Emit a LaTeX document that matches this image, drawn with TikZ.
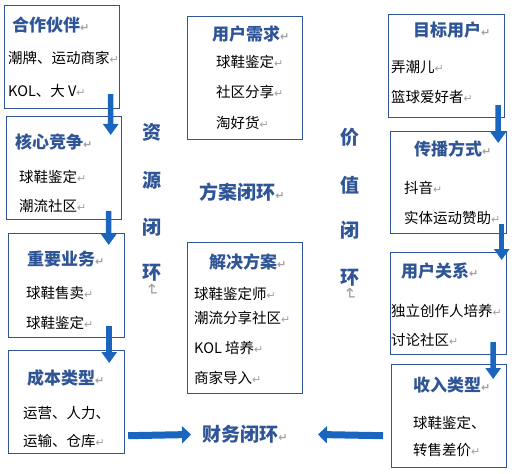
\documentclass[tikz,border=0pt]{standalone}
\usepackage{fontspec}
\setmainfont{Noto Sans CJK SC}
\newfontfamily\markfont{DejaVu Sans}
\usetikzlibrary{arrows.meta}

\definecolor{boxblue}{RGB}{47,85,151}
\definecolor{ttlblue}{RGB}{47,85,151}
\definecolor{arrblue}{RGB}{26,102,190}
\definecolor{markgray}{RGB}{160,160,160}
\newcommand{\parmark}{{\markfont\fontsize{11bp}{11bp}\selectfont\textcolor{markgray}{↵}}}

\begin{document}
\begin{tikzpicture}[x=1bp,y=-1bp,
	box/.style={draw=boxblue,line width=1.2bp,anchor=north west,inner sep=0pt},
	ttl/.style={anchor=west,inner sep=0pt,text=ttlblue,font=\bfseries\fontsize{17bp}{19bp}\selectfont},
	itm/.style={anchor=west,inner sep=0pt,font=\fontsize{14.5bp}{16bp}\selectfont},
	loopname/.style={inner sep=0pt,text=ttlblue,font=\bfseries\fontsize{19bp}{21bp}\selectfont},
	anchormark/.style={inner sep=0pt,rotate=-90,text=markgray,font=\markfont\fontsize{16bp}{16bp}\selectfont},
	blockdown/.style={draw=arrblue,line width=5.5bp,-{Triangle[width=15bp,length=11bp]}},
	blockside/.style={draw=arrblue,line width=7bp,-{Triangle[width=17bp,length=9bp]}}]

\path[fill=white] (0,0) rectangle (517,474);
\useasboundingbox (0,0) rectangle (517,474);

% left column
\node[box,minimum width=115bp,minimum height=103bp] (hzhb) at (4,5) {};
\node[box,minimum width=115bp,minimum height=103bp] (hxjz) at (6,116) {};
\node[box,minimum width=116bp,minimum height=104bp] (zyyw) at (8,233) {};
\node[box,minimum width=116bp,minimum height=103bp] (cblx) at (8,350) {};
\node[ttl] (hzhb1) at (12,25) {合作伙伴\parmark};
\node[itm] (hzhb2) at (8,58) {潮牌、运动商家\parmark};
\node[itm] (hzhb3) at (8,91) {KOL、大 V\parmark};
\node[ttl] (hxjz1) at (15,142) {核心竞争\parmark};
\node[itm] (hxjz2) at (19,177) {球鞋鉴定\parmark};
\node[itm] (hxjz3) at (19,206) {潮流社区\parmark};
\node[ttl] (zyyw1) at (27,259) {重要业务\parmark};
\node[itm] (zyyw2) at (26,293) {球鞋售卖\parmark};
\node[itm] (zyyw3) at (26,323) {球鞋鉴定\parmark};
\node[ttl] (cblx1) at (27,378) {成本类型\parmark};
\node[itm] (cblx2) at (23,413) {运营、人力、};
\node[itm] (cblx3) at (23,441) {运输、仓库\parmark};

% middle column
\node[box,minimum width=115bp,minimum height=123bp] (yhxq) at (187,16) {};
\node[box,minimum width=115bp,minimum height=151bp] (jjfa) at (187,242) {};
\node[ttl] (yhxq1) at (212,34) {用户需求\parmark};
\node[itm] (yhxq2) at (216,62) {球鞋鉴定\parmark};
\node[itm] (yhxq3) at (216,92) {社区分享\parmark};
\node[itm] (yhxq4) at (216,123) {淘好货\parmark};
\node[ttl] (jjfa1) at (209,262) {解决方案\parmark};
\node[itm] (jjfa2) at (194,294) {球鞋鉴定师\parmark};
\node[itm] (jjfa3) at (194,318) {潮流分享社区\parmark};
\node[itm] (jjfa4) at (194,348) {KOL 培养\parmark};
\node[itm] (jjfa5) at (194,378) {商家导入\parmark};
\node[loopname] (fabh) at (242,192) {方案闭环\parmark};
\node[loopname] (cwbh) at (245,434.5) {财务闭环\parmark};

% right column
\node[box,minimum width=116bp,minimum height=103bp] (mbyh) at (388,14) {};
\node[box,minimum width=116bp,minimum height=102bp] (cbfs) at (390,131) {};
\node[box,minimum width=116bp,minimum height=102bp] (yhgx) at (390,252) {};
\node[box,minimum width=115bp,minimum height=103bp] (srlx) at (391,364) {};
\node[ttl] (mbyh1) at (413,30) {目标用户\parmark};
\node[itm] (mbyh2) at (391,67) {弄潮儿\parmark};
\node[itm] (mbyh3) at (391,97) {篮球爱好者\parmark};
\node[ttl] (cbfs1) at (414,149) {传播方式\parmark};
\node[itm] (cbfs2) at (404,188) {抖音\parmark};
\node[itm] (cbfs3) at (404,218) {实体运动赞助\parmark};
\node[ttl] (yhgx1) at (401,271) {用户关系\parmark};
\node[itm] (yhgx2) at (391,311) {独立创作人培养\parmark};
\node[itm] (yhgx3) at (391,340) {讨论社区\parmark};
\node[ttl] (srlx1) at (413,385) {收入类型\parmark};
\node[itm] (srlx2) at (413,423) {球鞋鉴定、};
\node[itm] (srlx3) at (413,450) {转售差价\parmark};

% vertical loop names
\foreach \c/\y [count=\i] in {资/132,源/180,闭/227,环/273}
	\node[loopname] (zybh\i) at (152,\y) {\c};
\node[anchormark] (zybhm) at (152,290) {↵};
\foreach \c/\y [count=\i] in {价/137,值/185,闭/230,环/278}
	\node[loopname] (jzbh\i) at (350,\y) {\c};
\node[anchormark] (jzbhm) at (350,294) {↵};

% arrows
\draw[blockdown] ([xshift=-9.5bp,yshift=15bp]hzhb.south east) -- ([xshift=-11.5bp,yshift=-19bp]hxjz.north east);
\draw[blockdown] ([xshift=-13.5bp,yshift=9bp]hxjz.south east) -- ([xshift=-16.5bp,yshift=-12bp]zyyw.north east);
\draw[blockdown] ([xshift=-16bp,yshift=12bp]zyyw.south east) -- ([xshift=-16bp,yshift=-13bp]cblx.north east);
\draw[blockdown] ([xshift=-7bp,yshift=13bp]mbyh.south east) -- ([xshift=-9bp,yshift=-12bp]cbfs.north east);
\draw[blockdown] ([xshift=-5.5bp,yshift=10bp]cbfs.south east) -- ([xshift=-5.5bp,yshift=-8bp]yhgx.north east);
\draw[blockdown] ([xshift=-14bp,yshift=13bp]yhgx.south east) -- ([xshift=-14bp,yshift=-15bp]srlx.north east);
\draw[blockside] ([xshift=3bp,yshift=18.5bp]cblx.south east) -- ([xshift=-54bp]cwbh.center);
\draw[blockside] ([xshift=-8bp,yshift=32.5bp]srlx.south west) -- ([xshift=73bp]cwbh.center);
\end{tikzpicture}
\end{document}
